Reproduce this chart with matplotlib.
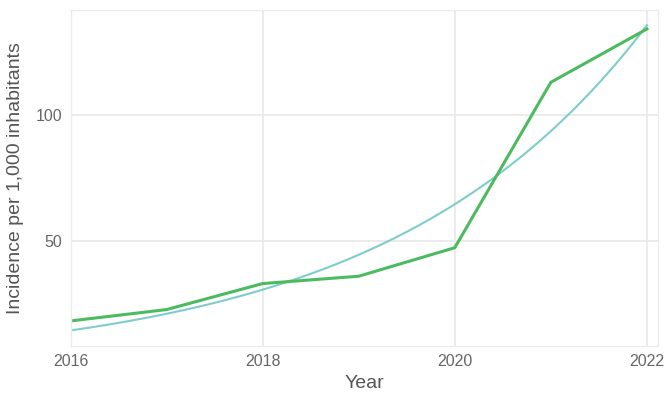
import matplotlib
matplotlib.use('Agg')
import matplotlib.pyplot as plt
import numpy as np

years = [2016, 2017, 2018, 2019, 2020, 2021, 2022]
incidence = [18.5, 23.0, 33.3, 36.2, 47.5, 113.0, 134.1]

x_ticks = [2016, 2018, 2020, 2022]
y_ticks = [50, 100]


def fit_exp_poisson(x, y, n_iter=100):
    # log-link poisson glm, fitted by IRLS: y ~ exp(c0 + c1 * x)
    x = np.asarray(x, dtype=float)
    y = np.asarray(y, dtype=float)
    X = np.column_stack([np.ones_like(x), x])
    beta = np.linalg.lstsq(X, np.log(y), rcond=None)[0]
    for _ in range(n_iter):
        mu = np.exp(X @ beta)
        z = X @ beta + (y - mu) / mu
        W = np.sqrt(mu)
        beta = np.linalg.lstsq(X * W[:, None], z * W, rcond=None)[0]
    return beta


t = np.array(years, dtype=float) - years[0]
c0, c1 = fit_exp_poisson(t, incidence)
t_fine = np.linspace(t[0], t[-1], 200)
trend = np.exp(c0 + c1 * t_fine)

plt.rcParams['font.family'] = ['Liberation Sans', 'DejaVu Sans']

fig = plt.figure(figsize=(6.69, 4.05), dpi=100)
ax = fig.add_axes([70.5 / 669, (405 - 345.7) / 405, (657.5 - 70.5) / 669, (345.7 - 10) / 405])

grid_col = '#EBEBEB'
ax.set_axisbelow(True)
ax.grid(True, color=grid_col, linewidth=1.4)
for s in ax.spines.values():
    s.set_color(grid_col)
    s.set_linewidth(1.0)

ax.plot(t_fine + years[0], trend, color='#7ECDCB', linewidth=1.5)
ax.plot(years, incidence, color='#4CBB5F', linewidth=2.2)

lo = min(min(incidence), trend.min())
hi = max(max(incidence), trend.max())
pad = (hi - lo) * 0.05
ax.set_ylim(lo - pad, hi + pad)
ax.set_xlim(2016, 2022.11)

ax.set_xticks(x_ticks)
ax.set_yticks(y_ticks)
ax.tick_params(length=0, labelsize=11.5, labelcolor='#666666', pad=6)
ax.set_xlabel('Year', fontsize=14, color='#555555', labelpad=4)
ax.set_ylabel('Incidence per 1,000 inhabitants', fontsize=14, color='#555555', labelpad=8)

fig.savefig('out.png', dpi=100)
